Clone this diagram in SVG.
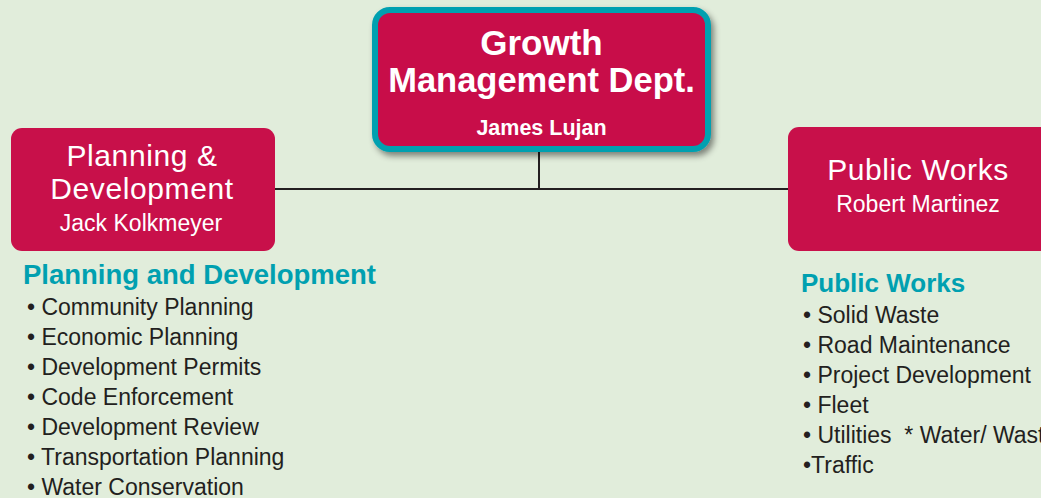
<svg xmlns="http://www.w3.org/2000/svg" width="1041" height="498" viewBox="0 0 1041 498">
  <defs>
    <filter id="shadow" x="-10%" y="-10%" width="125%" height="130%">
      <feDropShadow dx="3" dy="4" stdDeviation="3" flood-color="#000" flood-opacity="0.45"/>
    </filter>
    <style>
      .box { fill: #c8104a; }
      .wt { fill: #ffffff; font-family: "Liberation Sans", Arial, sans-serif; text-anchor: middle; }
      .b { font-weight: bold; }
      .title { font-size: 30px; letter-spacing: 0.6px; }
      .name { font-size: 23px; }
      .head { fill: #00a0b0; font-family: "Liberation Sans", Arial, sans-serif; font-weight: bold; }
      .item { fill: #231f20; font-family: "Liberation Sans", Arial, sans-serif; font-size: 23px; }
      .conn { stroke: #231f20; stroke-width: 2; fill: none; }
    </style>
  </defs>
  <rect x="0" y="0" width="1041" height="498" fill="#e1eddb"/>

  <g id="connectors">
    <line class="conn" x1="539" y1="150" x2="539" y2="190"/>
    <line class="conn" x1="275" y1="189" x2="790" y2="189"/>
  </g>

  <g id="growth-management">
    <rect x="375" y="10" width="333" height="139" rx="15" fill="#c8104a" stroke="#00a0b0" stroke-width="6" filter="url(#shadow)"/>
    <text class="wt b" x="541.5" y="55" font-size="35">Growth</text>
    <text class="wt b" x="541.5" y="92" font-size="34.5">Management Dept.</text>
    <text class="wt b" x="541.5" y="135" font-size="21.5">James Lujan</text>
  </g>

  <g id="planning-development">
    <rect class="box" x="11" y="128" width="264" height="123" rx="11"/>
    <text class="wt title" x="142" y="166">Planning &amp;</text>
    <text class="wt title" x="142" y="199">Development</text>
    <text class="wt name" x="141" y="231">Jack Kolkmeyer</text>
  </g>

  <g id="public-works">
    <rect class="box" x="788" y="127" width="265" height="124" rx="11"/>
    <text class="wt title" x="918" y="180">Public Works</text>
    <text class="wt name" x="918" y="212">Robert Martinez</text>
  </g>

  <g id="planning-list">
    <text class="head" x="23" y="284" font-size="27.5">Planning and Development</text>
    <text class="item" x="27" y="315">• Community Planning</text>
    <text class="item" x="27" y="345">• Economic Planning</text>
    <text class="item" x="27" y="375">• Development Permits</text>
    <text class="item" x="27" y="405">• Code Enforcement</text>
    <text class="item" x="27" y="435">• Development Review</text>
    <text class="item" x="27" y="465">• Transportation Planning</text>
    <text class="item" x="27" y="495">• Water Conservation</text>
  </g>

  <g id="public-works-list">
    <text class="head" x="801" y="292" font-size="26">Public Works</text>
    <text class="item" x="803" y="323">• Solid Waste</text>
    <text class="item" x="803" y="353">• Road Maintenance</text>
    <text class="item" x="803" y="383">• Project Development</text>
    <text class="item" x="803" y="413">• Fleet</text>
    <text class="item" x="803" y="443" xml:space="preserve">• Utilities  * Water/ Wast</text>
    <text class="item" x="803" y="473">•Traffic</text>
  </g>
</svg>
